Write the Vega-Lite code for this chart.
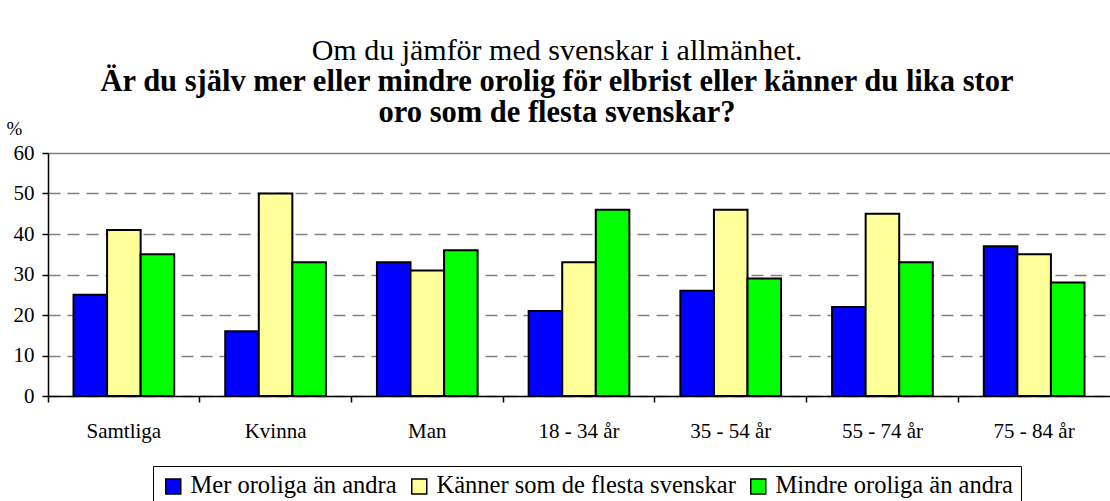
{
  "$schema": "https://vega.github.io/schema/vega-lite/v6.json",
  "autosize": {"type": "none"},
  "width": 1062,
  "height": 243,
  "padding": {"left": 48, "top": 153, "right": 0, "bottom": 105},
  "background": "white",
  "title": {
    "text": "Om du jämför med svenskar i allmänhet.",
    "subtitle": ["Är du själv mer eller mindre orolig för elbrist eller känner du lika stor", "oro som de flesta svenskar?"],
    "anchor": "middle",
    "frame": "group",
    "dx": -22,
    "dy": 9,
    "offset": 0,
    "font": "Liberation Serif",
    "fontSize": 30,
    "fontWeight": "normal",
    "color": "black",
    "subtitleFont": "Liberation Serif",
    "subtitleFontSize": 30.5,
    "subtitleFontWeight": "bold",
    "subtitleColor": "black",
    "subtitlePadding": 1,
    "subtitleLineHeight": 31
  },
  "data": {
    "values": [
      {"grupp": "Samtliga", "svar": "Mer oroliga än andra", "procent": 25},
      {"grupp": "Samtliga", "svar": "Känner som de flesta svenskar", "procent": 41},
      {"grupp": "Samtliga", "svar": "Mindre oroliga än andra", "procent": 35},
      {"grupp": "Kvinna", "svar": "Mer oroliga än andra", "procent": 16},
      {"grupp": "Kvinna", "svar": "Känner som de flesta svenskar", "procent": 50},
      {"grupp": "Kvinna", "svar": "Mindre oroliga än andra", "procent": 33},
      {"grupp": "Man", "svar": "Mer oroliga än andra", "procent": 33},
      {"grupp": "Man", "svar": "Känner som de flesta svenskar", "procent": 31},
      {"grupp": "Man", "svar": "Mindre oroliga än andra", "procent": 36},
      {"grupp": "18 - 34 år", "svar": "Mer oroliga än andra", "procent": 21},
      {"grupp": "18 - 34 år", "svar": "Känner som de flesta svenskar", "procent": 33},
      {"grupp": "18 - 34 år", "svar": "Mindre oroliga än andra", "procent": 46},
      {"grupp": "35 - 54 år", "svar": "Mer oroliga än andra", "procent": 26},
      {"grupp": "35 - 54 år", "svar": "Känner som de flesta svenskar", "procent": 46},
      {"grupp": "35 - 54 år", "svar": "Mindre oroliga än andra", "procent": 29},
      {"grupp": "55 - 74 år", "svar": "Mer oroliga än andra", "procent": 22},
      {"grupp": "55 - 74 år", "svar": "Känner som de flesta svenskar", "procent": 45},
      {"grupp": "55 - 74 år", "svar": "Mindre oroliga än andra", "procent": 33},
      {"grupp": "75 - 84 år", "svar": "Mer oroliga än andra", "procent": 37},
      {"grupp": "75 - 84 år", "svar": "Känner som de flesta svenskar", "procent": 35},
      {"grupp": "75 - 84 år", "svar": "Mindre oroliga än andra", "procent": 28}
    ]
  },
  "mark": {"type": "bar", "stroke": "black", "strokeWidth": 2},
  "encoding": {
    "x": {
      "field": "grupp",
      "type": "nominal",
      "sort": null,
      "scale": {"paddingInner": 0, "paddingOuter": 0},
      "axis": {
        "title": null,
        "labelAngle": 0,
        "bandPosition": 0,
        "domainColor": "black",
        "domainWidth": 1.5,
        "tickColor": "black",
        "tickWidth": 1.5,
        "tickSize": 6,
        "labelFont": "Liberation Serif",
        "labelFontSize": 21,
        "labelColor": "black",
        "labelPadding": 18,
        "grid": false
      }
    },
    "xOffset": {
      "field": "svar",
      "type": "nominal",
      "sort": ["Mer oroliga än andra", "Känner som de flesta svenskar", "Mindre oroliga än andra"],
      "scale": {"paddingInner": 0, "paddingOuter": 0.76}
    },
    "y": {
      "field": "procent",
      "type": "quantitative",
      "scale": {"domain": [0, 60], "nice": false},
      "axis": {
        "values": [0, 10, 20, 30, 40, 50, 60],
        "title": "%",
        "titleAngle": 0,
        "titleAlign": "center",
        "titleBaseline": "alphabetic",
        "titleX": -34,
        "titleY": -19,
        "titleFont": "Liberation Serif",
        "titleFontSize": 19,
        "titleFontWeight": "normal",
        "titleColor": "black",
        "labelFont": "Liberation Serif",
        "labelFontSize": 21,
        "labelColor": "black",
        "labelPadding": 8,
        "domainColor": "black",
        "domainWidth": 1.5,
        "tickColor": "black",
        "tickWidth": 1.5,
        "tickSize": 6,
        "grid": true,
        "gridColor": "#808080",
        "gridWidth": 1.5,
        "gridDash": {"condition": {"test": "datum.value === 60", "value": []}, "value": [12, 7]}
      }
    },
    "color": {
      "field": "svar",
      "type": "nominal",
      "sort": ["Mer oroliga än andra", "Känner som de flesta svenskar", "Mindre oroliga än andra"],
      "scale": {
        "domain": ["Mer oroliga än andra", "Känner som de flesta svenskar", "Mindre oroliga än andra"],
        "range": ["#0000FF", "#FFFF99", "#00FF00"]
      },
      "legend": {
        "title": null,
        "orient": "none",
        "direction": "horizontal",
        "legendX": 105,
        "legendY": 313,
        "symbolType": "square",
        "symbolSize": 225,
        "symbolStrokeColor": "black",
        "symbolStrokeWidth": 1.5,
        "symbolOpacity": 1,
        "labelFont": "Liberation Serif",
        "labelFontSize": 24.5,
        "labelColor": "black",
        "labelOffset": 5,
        "labelLimit": 0,
        "columnPadding": 10,
        "padding": 8,
        "strokeColor": "black",
        "fillColor": "white"
      }
    }
  },
  "config": {
    "view": {"stroke": null},
    "legend": {"strokeWidth": 1}
  }
}
